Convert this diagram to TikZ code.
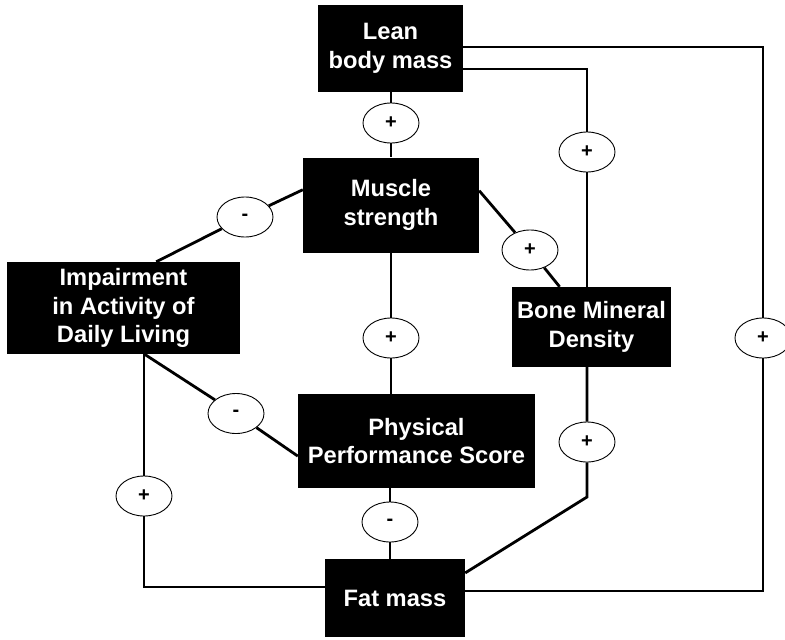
\documentclass[tikz,border=0pt]{standalone}
\usepackage{fontspec}
\setmainfont{Liberation Sans}
\usetikzlibrary{shapes.geometric,calc}
\tikzset{
  box/.style={fill=black, text=white, inner sep=0pt, align=center,
    font=\fontsize{23.7}{28.5}\selectfont\bfseries},
  sign/.style={ellipse, draw=black, line width=0.9pt, fill=white,
    minimum width=56pt, minimum height=40pt, inner sep=0pt,
    font=\fontsize{20}{20}\selectfont\bfseries},
  conn/.style={draw=black, line width=2.8pt, line join=miter}
}
\begin{document}
\begin{tikzpicture}[x=1pt,y=-1pt]
\useasboundingbox (0,0) rectangle (785,640);
% boxes
\node[box, minimum width=145pt, minimum height=87pt] (lean) at (390.5,48.5) {Lean\\body mass};
\node[box, minimum width=176pt, minimum height=95pt] (muscle) at (391,205) {Muscle\\strength};
\node[box, minimum width=233pt, minimum height=92pt] (imp) at (123.5,308) {Impairment\\in Activity of\\Daily Living};
\node[box, minimum width=159pt, minimum height=80pt] (bmd) at (591.5,327) {Bone Mineral\\Density};
\node[box, minimum width=237pt, minimum height=94pt] (phys) at (416.5,441) {Physical\\Performance Score};
\node[box, minimum width=140pt, minimum height=78pt] (fat) at (395,598) {Fat mass};
% corner coordinates
\coordinate (kR1) at (763,47);
\coordinate (kR2) at (763,591);
\coordinate (kB1) at (587,69);
\coordinate (kB2) at (587,497);
\coordinate (kL) at (144,587);
% sign ellipses
\node[sign] (e1) at (391,123) {+};
\node[sign] (e2) at (530,250) {+};
\node[sign] (e3) at (587,152) {+};
\node[sign] (e4) at (245,217) {-};
\node[sign] (e5) at (391,338) {+};
\node[sign] (e6) at (587,442) {+};
\node[sign] (e7) at (236,413.5) {-};
\node[sign] (e8) at (763,338) {+};
\node[sign] (e9) at (144,496) {+};
\node[sign] (e10) at (390,522) {-};
% connectors
\draw[conn] (lean.east |- kR1) -- (kR1) -- (e8) -- (kR2) -- (fat.east |- kR2);
\draw[conn] (lean.east |- kB1) -- (kB1) -- (e3) -- (bmd.north -| kB1);
\draw[conn] (e1 |- lean.south) -- (e1) -- (e1 |- muscle.north);
\draw[conn] ($(muscle.north east)!0.35!(muscle.south east)$) -- (e2) -- ($(bmd.north west)!0.3!(bmd.north east)$);
\draw[conn] ($(muscle.north west)!0.34!(muscle.south west)$) -- (e4) -- ($(imp.north west)!0.64!(imp.north east)$);
\draw[conn] (e5 |- muscle.south) -- (e5) -- (e5 |- phys.north);
\draw[conn] (bmd.south -| kB2) -- (e6) -- (kB2) -- ($(fat.north east)!0.18!(fat.south east)$);
\draw[conn] ($(imp.south west)!0.59!(imp.south east)$) -- (e7) -- ($(phys.north west)!0.66!(phys.south west)$);
\draw[conn] (imp.south -| kL) -- (e9) -- (kL) -- (fat.west |- kL);
\draw[conn] (e10 |- phys.south) -- (e10) -- (e10 |- fat.north);
\end{tikzpicture}
\end{document}
